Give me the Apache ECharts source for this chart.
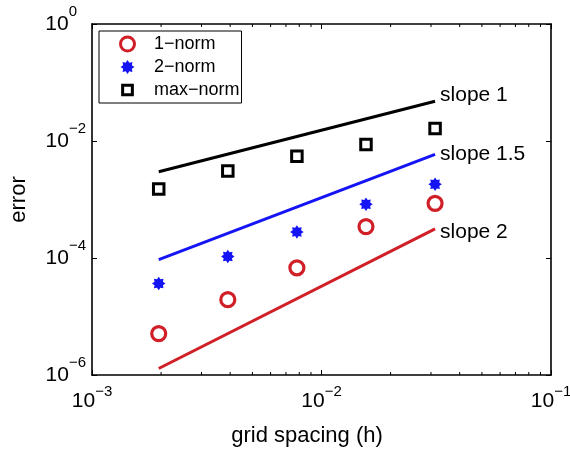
<!DOCTYPE html>
<html>
<head>
<meta charset="utf-8">
<style>
  html, body { margin: 0; padding: 0; background: #fff; }
  #chart { width: 570px; height: 450px; }
</style>
<script src="https://cdn.jsdelivr.net/npm/echarts@6/dist/echarts.min.js"></script>
</head>
<body>
<div id="chart"></div>
<script>
// grid spacings h = 1/512 ... 1/32
const gridSpacing = [0.001953125, 0.00390625, 0.0078125, 0.015625, 0.03125];
// measured errors per norm
const err1 = [5.1e-6, 1.94e-5, 6.8e-5, 3.44e-4, 8.6e-4];
const err2 = [3.67e-5, 1.06e-4, 2.79e-4, 8.3e-4, 1.82e-3];
const errMax = [1.51e-3, 3.06e-3, 5.5e-3, 8.7e-3, 1.64e-2];
const seriesNames = ['1\u2212norm', '2\u2212norm', 'max\u2212norm'];

// reference slope lines, drawn between the smallest and largest h
const slopeX = [0.001953125, 0.03125];
const slope1 = [2.98e-3, 4.78e-2];
const slope15 = [9.4e-5, 5.9e-3];
const slope2 = [1.29e-6, 3.14e-4];
const slopeNames = ['slope 1', 'slope 1.5', 'slope 2'];

// axis ranges and minor tick positions on the h axis
const xRange = [1e-3, 1e-1];
const yRange = [1e-6, 1];
const xMinorTicks = [0.002, 0.003, 0.004, 0.005, 0.006, 0.007, 0.008, 0.009,
                     0.02, 0.03, 0.04, 0.05, 0.06, 0.07, 0.08, 0.09];

const FONT = '"Liberation Sans", Arial, Helvetica, sans-serif';
const RED = '#d01f27';
const BLUE = '#1414f5';
const BLACK = '#000';

// eight-spoke asterisk marker
const STAR = 'path://M10 0 L6.2 2.57 L7.07 7.07 L2.57 6.2 L0 10 L-2.57 6.2 L-7.07 7.07 L-6.2 2.57 L-10 0 L-6.2 -2.57 L-7.07 -7.07 L-2.57 -6.2 L0 -10 L2.57 -6.2 L7.07 -7.07 L6.2 -2.57 Z';
// square with empty margin so the legend icon comes out smaller than the circle
const LEGEND_SQUARE = 'path://M-2.2 -2.2 M12.2 12.2 M0 0 L10 0 L10 10 L0 10 Z';

// "10" with a raised exponent; one-character exponents keep a trailing gap
// so the bases of all labels line up
function powLabel(v) {
  const e = Math.round(Math.log10(v));
  const exp = e < 0 ? '\u2212' + (-e) : String(e);
  return '{b|10}{' + (exp.length > 1 ? 's' : 's1') + '|' + exp + '}';
}

function richFor(padTop, padBottom) {
  const sup = { fontSize: 15, fontFamily: FONT, color: BLACK, verticalAlign: 'top' };
  return {
    b: { fontSize: 21, fontFamily: FONT, color: BLACK, padding: [padTop, 0, padBottom, 0], verticalAlign: 'bottom' },
    s: sup,
    s1: Object.assign({}, sup, { padding: [0, 9, 0, 0] })
  };
}

const boxLine = { show: true, onZero: false, lineStyle: { color: BLACK, width: 1.6 } };
const majorTick = { show: true, inside: true, length: 5, lineStyle: { color: BLACK, width: 1 } };

const chart = echarts.init(document.getElementById('chart'), null, { renderer: 'canvas' });

const pairs = (xs, ys) => xs.map((x, i) => [x, ys[i]]);

chart.setOption({
  animation: false,
  backgroundColor: '#fff',
  textStyle: { fontFamily: FONT },
  grid: { left: 92, right: 19, top: 24, bottom: 75, containLabel: false, outerBoundsMode: 'none' },
  legend: {
    orient: 'vertical',
    left: 99,
    top: 31,
    selectedMode: false,
    itemWidth: 43,
    itemHeight: 14,
    itemGap: 5,
    padding: [4, 2, 4, 20],
    borderColor: BLACK,
    borderWidth: 1,
    backgroundColor: '#fff',
    textStyle: { fontSize: 18, color: BLACK, fontFamily: FONT },
    data: [
      { name: seriesNames[0], icon: 'circle', itemStyle: { color: '#fff', borderColor: RED, borderWidth: 3, opacity: 1 } },
      { name: seriesNames[1], icon: STAR, itemStyle: { color: BLUE, borderWidth: 0, opacity: 1 } },
      { name: seriesNames[2], icon: LEGEND_SQUARE, itemStyle: { color: '#fff', borderColor: BLACK, borderWidth: 3, opacity: 1 } }
    ]
  },
  xAxis: [
    {
      type: 'log', logBase: 10, min: xRange[0], max: xRange[1], interval: 1,
      position: 'bottom',
      axisLine: boxLine, axisTick: majorTick, splitLine: { show: false },
      axisLabel: { formatter: powLabel, margin: 9, rich: richFor(7, 0) },
      name: 'grid spacing (h)', nameLocation: 'middle', nameGap: 50,
      nameTextStyle: { fontSize: 22, color: BLACK, fontFamily: FONT, padding: [0, 29, 0, 0] }
    },
    {
      type: 'log', logBase: 10, min: xRange[0], max: xRange[1], interval: 1,
      position: 'top',
      axisLine: boxLine, axisTick: majorTick, splitLine: { show: false },
      axisLabel: { show: false }
    }
  ],
  yAxis: [
    {
      type: 'log', logBase: 10, min: yRange[0], max: yRange[1], interval: 2,
      position: 'left',
      axisLine: boxLine, axisTick: majorTick, splitLine: { show: false },
      axisLabel: { formatter: powLabel, margin: 6, rich: richFor(9, 9) },
      name: 'error', nameLocation: 'middle', nameGap: 62,
      nameTextStyle: { fontSize: 22, color: BLACK, fontFamily: FONT }
    },
    {
      type: 'log', logBase: 10, min: yRange[0], max: yRange[1], interval: 2,
      position: 'right',
      axisLine: boxLine, axisTick: majorTick, splitLine: { show: false },
      axisLabel: { show: false }
    }
  ],
  series: [
    // minor ticks along the bottom and top edges of the h axis
    {
      type: 'custom',
      xAxisIndex: 0, yAxisIndex: 0,
      silent: true, clip: false, z: 3,
      data: xMinorTicks.map(v => [v, yRange[1]]),
      renderItem: function (params, api) {
        const cs = params.coordSys;
        const x = api.coord([api.value(0), yRange[1]])[0];
        const yb = cs.y + cs.height;
        const yt = cs.y;
        const st = { stroke: BLACK, lineWidth: 1 };
        return {
          type: 'group',
          children: [
            { type: 'line', shape: { x1: x, y1: yb, x2: x, y2: yb - 3 }, style: st },
            { type: 'line', shape: { x1: x, y1: yt, x2: x, y2: yt + 3 }, style: st }
          ]
        };
      }
    },
    {
      type: 'line', data: pairs(slopeX, slope1), symbol: 'none', showSymbol: false, silent: true,
      lineStyle: { color: BLACK, width: 3 }, z: 2,
      endLabel: { show: true, formatter: slopeNames[0], fontSize: 21, color: BLACK, fontFamily: FONT, distance: 5, offset: [0, -6] }
    },
    {
      type: 'line', data: pairs(slopeX, slope15), symbol: 'none', showSymbol: false, silent: true,
      lineStyle: { color: BLUE, width: 3 }, z: 2,
      endLabel: { show: true, formatter: slopeNames[1], fontSize: 21, color: BLACK, fontFamily: FONT, distance: 5, offset: [0, 0] }
    },
    {
      type: 'line', data: pairs(slopeX, slope2), symbol: 'none', showSymbol: false, silent: true,
      lineStyle: { color: RED, width: 3 }, z: 2,
      endLabel: { show: true, formatter: slopeNames[2], fontSize: 21, color: BLACK, fontFamily: FONT, distance: 5, offset: [0, 3] }
    },
    {
      name: seriesNames[0], type: 'scatter', data: pairs(gridSpacing, err1),
      symbol: 'circle', symbolSize: 14, z: 5,
      itemStyle: { color: '#fff', borderColor: RED, borderWidth: 3.2, opacity: 1 }
    },
    {
      name: seriesNames[1], type: 'scatter', data: pairs(gridSpacing, err2),
      symbol: STAR, symbolSize: 13.5, z: 5,
      itemStyle: { color: BLUE, opacity: 1 }
    },
    {
      name: seriesNames[2], type: 'scatter', data: pairs(gridSpacing, errMax),
      symbol: 'rect', symbolSize: 10.5, z: 5,
      itemStyle: { color: '#fff', borderColor: BLACK, borderWidth: 3, opacity: 1 }
    }
  ]
});
</script>
</body>
</html>
